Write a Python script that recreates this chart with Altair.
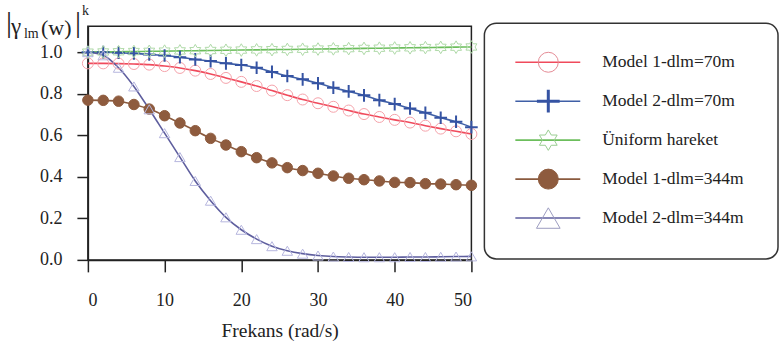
import altair as alt
import pandas as pd

# ---------------- data ----------------
freq = [0, 2, 4, 6, 8, 10, 12, 14, 16, 18, 20, 22, 24, 26, 28, 30, 32, 34, 36, 38, 40, 42, 44, 46, 48, 50]

model1_70 = [0.946, 0.946, 0.945, 0.943, 0.940, 0.933, 0.924, 0.911, 0.895, 0.876, 0.857, 0.837, 0.815,
             0.793, 0.772, 0.754, 0.737, 0.719, 0.702, 0.688, 0.674, 0.661, 0.646, 0.632, 0.619, 0.606]
model2_70 = [1.000, 1.000, 0.997, 0.994, 0.989, 0.984, 0.976, 0.965, 0.957, 0.946, 0.938, 0.925, 0.905,
             0.885, 0.869, 0.850, 0.829, 0.811, 0.792, 0.769, 0.750, 0.729, 0.708, 0.684, 0.665, 0.639]
uniform = [1.000, 1.001, 1.002, 1.003, 1.004, 1.005, 1.006, 1.007, 1.008, 1.009, 1.010, 1.011, 1.012,
           1.013, 1.014, 1.015, 1.016, 1.017, 1.018, 1.019, 1.020, 1.021, 1.022, 1.023, 1.024, 1.025]
model1_344 = [0.769, 0.768, 0.764, 0.748, 0.726, 0.694, 0.659, 0.622, 0.585, 0.553, 0.521, 0.492, 0.467,
              0.444, 0.430, 0.417, 0.404, 0.393, 0.386, 0.380, 0.373, 0.372, 0.367, 0.365, 0.362, 0.359]
model2_344 = [1.000, 0.985, 0.925, 0.835, 0.725, 0.610, 0.495, 0.380, 0.285, 0.205, 0.145, 0.100, 0.066,
              0.044, 0.030, 0.021, 0.016, 0.014, 0.013, 0.013, 0.013, 0.014, 0.014, 0.015, 0.016, 0.017]

series_names = ["Model 1-dlm=70m", "Model 2-dlm=70m", "Üniform hareket",
                "Model 1-dlm=344m", "Model 2-dlm=344m"]
series_values = [model1_70, model2_70, uniform, model1_344, model2_344]

x_ticks = [0, 10, 20, 30, 40, 50]
y_ticks = [0.0, 0.2, 0.4, 0.6, 0.8, 1.0]

rows = []
for name, vals in zip(series_names, series_values):
    for f, v in zip(freq, vals):
        rows.append({"series": name, "freq": f, "value": v})
df = pd.DataFrame(rows)

# ---------------- styles ----------------
FONT = "Liberation Serif, Times New Roman, serif"
line_colors = ["#F04A5C", "#3F5FA6", "#6CBE5C", "#8A5A3E", "#5E5E9E"]

PLUS = "M-1,0H1M0,-1V1"
STAR = ("M0,-1L0.289,-0.5L0.866,-0.5L0.577,0L0.866,0.5L0.289,0.5L0,1L-0.289,0.5"
        "L-0.866,0.5L-0.577,0L-0.866,-0.5L-0.289,-0.5Z")

marker_styles = [
    dict(shape="circle", stroke="#F4A2AA", fill="transparent", sw=1.0, size=121, lsize=400, lstroke="#E48B95"),
    dict(shape=PLUS, stroke="#3553A3", fill="transparent", sw=2.0, size=160, lsize=520, lstroke="#3553A3"),
    dict(shape=STAR, stroke="#AFD9A8", fill="transparent", sw=1.0, size=160, lsize=420, lstroke="#9ACD92"),
    dict(shape="circle", stroke="#8E5B3E", fill="#8E5B3E", sw=1.0, size=110, lsize=400, lstroke="#8E5B3E"),
    dict(shape="triangle-up", stroke="#B6B6DE", fill="transparent", sw=1.0, size=110, lsize=560, lstroke="#9C9CC0"),
]

W, H = 384, 234

x_enc = alt.X("freq:Q",
              scale=alt.Scale(domain=[0, 50], nice=False),
              axis=alt.Axis(values=x_ticks, title="Frekans (rad/s)", format="d",
                            tickSize=12, labelPadding=20, titleFontSize=19.5,
                            titleFont=FONT, titleFontWeight="normal", titleColor="#222",
                            titleBaseline="alphabetic", titleY=77))
y_enc = alt.Y("value:Q",
              scale=alt.Scale(domain=[0, 1.125], nice=False, zero=False),
              axis=alt.Axis(values=y_ticks, format=".1f", title=None,
                            tickSize=11, labelPadding=15))

color_enc = alt.Color("series:N", scale=alt.Scale(domain=series_names, range=line_colors), legend=None)

base = alt.Chart(df)
lines = base.mark_line(strokeWidth=1.6, interpolate="monotone").encode(
    x=x_enc, y=y_enc, color=color_enc, detail="series:N")

marker_layers = []
for name, st in zip(series_names, marker_styles):
    marker_layers.append(
        base.transform_filter(alt.datum.series == name).mark_point(
            shape=st["shape"], stroke=st["stroke"], fill=st["fill"], filled=False,
            strokeWidth=st["sw"], size=st["size"], opacity=1, fillOpacity=1
        ).encode(x="freq:Q", y="value:Q")
    )

one = pd.DataFrame({"k": [0]})

def label_piece(txt, size, xv, yv):
    return alt.Chart(one).mark_text(
        text=txt, font=FONT, fontSize=size, align="left", baseline="alphabetic", color="#222"
    ).encode(x=alt.value(xv), y=alt.value(yv))

ytitle = [
    label_piece("|", 30, -82, 6),
    label_piece("γ", 23, -77, 8),
    label_piece("lm", 14, -64, 12),
    label_piece("(w)", 22, -47, 9),
    label_piece("|", 30, -13, 6),
    label_piece("k", 14, -6, -11),
]

main = alt.layer(lines, *marker_layers, *ytitle).properties(
    width=W, height=H,
    view=alt.ViewBackground(stroke="#222", strokeWidth=1.5),
)

# ---------------- legend panel ----------------
leg_df = pd.DataFrame({"series": series_names})
leg_y = alt.Y("series:N", sort=series_names, axis=None,
              scale=alt.Scale(type="point", domain=series_names, padding=1.079, align=0.463))

leg_base = alt.Chart(leg_df)
box = alt.Chart(one).mark_rect(cornerRadius=12, fill="white", stroke="#333", strokeWidth=1.5).encode(
    x=alt.value(0), x2=alt.value(294), y=alt.value(-3), y2=alt.value(233))
leg_lines = leg_base.mark_rule(strokeWidth=1.6).encode(
    x=alt.value(31), x2=alt.value(96), y=leg_y, color=color_enc)
leg_marks = []
for name, st in zip(series_names, marker_styles):
    leg_marks.append(
        leg_base.transform_filter(alt.datum.series == name).mark_point(
            shape=st["shape"], stroke=st["lstroke"], fill=st["fill"], filled=False,
            strokeWidth=st["sw"] + (1.0 if st["shape"] == PLUS else 0.0), size=st["lsize"],
            opacity=1, fillOpacity=1
        ).encode(x=alt.value(64), y=leg_y)
    )
leg_text = leg_base.mark_text(align="left", baseline="middle", font=FONT, fontSize=17.5, color="#222").encode(
    x=alt.value(118), y=leg_y, text="series:N")

legend = alt.layer(box, leg_lines, *leg_marks, leg_text).properties(
    width=294, height=H,
    view=alt.ViewBackground(stroke="transparent"),
)

chart = alt.hconcat(main, legend, spacing=13, bounds="flush").properties(
    padding={"left": 5, "top": 3, "right": 2, "bottom": 2},
    background="white",
).configure_axis(
    labelFont=FONT, labelFontSize=18, labelColor="#222",
    domainColor="#222", domainWidth=1.5, tickColor="#222", tickWidth=1.5,
    grid=False,
).configure_view(stroke="#222")

chart.save("out.html", embed_options={"renderer": "svg", "actions": False})
